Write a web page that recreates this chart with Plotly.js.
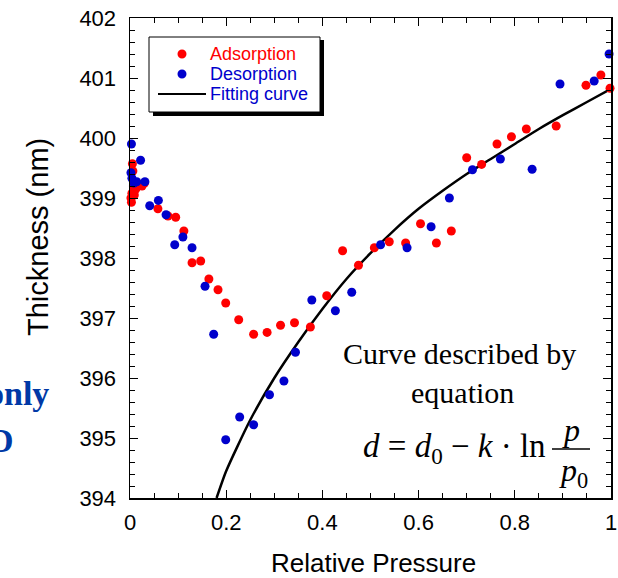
<!DOCTYPE html>
<html>
<head>
<meta charset="utf-8">
<script src="https://cdn.plot.ly/plotly-3.0.1.min.js"></script>
<style>html,body{margin:0;padding:0;background:#fff;}#chart{width:618px;height:578px;}</style>
</head>
<body>
<div id="chart"></div>
<script>
// Adsorption (red)
const adsX = [0.002,0.003,0.004,0.005,0.006,0.007,0.009,0.012,0.017,0.025,0.030,
  0.058,0.079,0.095,0.112,0.129,0.147,0.164,0.183,0.199,0.226,0.257,0.285,0.313,0.342,0.375,
  0.409,0.442,0.475,0.508,0.539,0.573,0.604,0.637,0.668,0.700,0.731,0.763,0.793,0.824,0.886,
  0.948,0.979,0.998];
const adsY = [399.00,398.93,399.08,399.57,399.45,399.20,399.05,399.15,399.20,399.20,399.25,
  398.82,398.70,398.68,398.45,397.92,397.95,397.65,397.47,397.25,396.97,396.73,396.76,396.88,396.92,396.85,
  397.37,398.12,397.88,398.17,398.27,398.25,398.57,398.25,398.45,399.67,399.56,399.90,400.02,400.15,400.20,
  400.88,401.05,400.83];
// Desorption (blue)
const desX = [0.003,0.002,0.004,0.008,0.014,0.022,0.031,0.041,0.059,0.075,0.093,0.110,0.129,
  0.156,0.174,0.199,0.228,0.257,0.290,0.320,0.344,0.378,0.427,0.461,0.521,0.576,0.626,0.664,
  0.712,0.770,0.836,0.894,0.965,0.996];
const desY = [399.90,399.42,399.33,399.25,399.27,399.63,399.27,398.87,398.96,398.72,398.22,398.35,398.17,
  397.53,396.73,394.97,395.35,395.22,395.72,395.95,396.43,397.30,397.12,397.43,398.22,398.17,398.52,399.00,
  399.47,399.65,399.48,400.90,400.95,401.40];
// Fitting curve
const fitX = [0.18,0.20,0.25,0.30,0.35,0.40,0.45,0.50,0.55,0.60,0.65,0.70,0.75,0.80,0.85,0.90,0.95,1.00];
const fitY = [394.00,394.45,395.30,396.00,396.60,397.15,397.65,398.08,398.47,398.82,399.12,399.40,399.65,399.90,400.15,400.38,400.60,400.82];

const xTicks = [0,0.2,0.4,0.6,0.8,1];
const xTickText = ['0','0.2','0.4','0.6','0.8','1'];
const yTicks = [394,395,396,397,398,399,400,401,402];

const RED = '#ff0000', BLUE = '#0000cc';
const W = 618, H = 578, L = 130, R = 7, T = 18, B = 80;
const pw = W - L - R, ph = H - T - B;
const px = v => (v - L) / pw;          // pixel -> paper x
const py = v => (H - B - v) / ph;      // pixel -> paper y

const traces = [
  {x: fitX, y: fitY, mode: 'lines', line: {color: 'black', width: 2.5, shape: 'spline', smoothing: 0.6}, hoverinfo: 'skip', showlegend: false},
  {x: adsX, y: adsY, mode: 'markers', marker: {color: RED, size: 9}, cliponaxis: false, showlegend: false},
  {x: desX, y: desY, mode: 'markers', marker: {color: BLUE, size: 9}, cliponaxis: false, showlegend: false}
];

const sans = 'Arial, "Liberation Sans", sans-serif';
const serif = '"Times New Roman", "Liberation Serif", serif';

const axisCommon = {
  showline: true, linecolor: 'black', linewidth: 1.5, mirror: 'ticks',
  ticks: 'inside', ticklen: 8, tickwidth: 1, tickcolor: 'black',
  showgrid: false, zeroline: false, fixedrange: true,
  tickfont: {family: sans, size: 22, color: 'black'}
};

const layout = {
  width: W, height: H,
  margin: {l: L, r: R, t: T, b: B},
  paper_bgcolor: 'white', plot_bgcolor: 'white',
  showlegend: false,
  xaxis: Object.assign({}, axisCommon, {
    range: [0, 1], tickvals: xTicks, ticktext: xTickText, ticklabelstandoff: 4,
    minor: {dtick: 0.05, ticks: 'inside', ticklen: 5, tickwidth: 1, tickcolor: 'black', showgrid: false}
  }),
  yaxis: Object.assign({}, axisCommon, {
    range: [394, 402], tickvals: yTicks, ticklabelstandoff: 8,
    minor: {dtick: 0.2, ticks: 'inside', ticklen: 5, tickwidth: 1, tickcolor: 'black', showgrid: false}
  }),
  shapes: [
    // legend shadow and box
    {type: 'rect', xref: 'paper', yref: 'paper', x0: px(153), x1: px(324), y0: py(116), y1: py(40),
     fillcolor: 'black', line: {width: 0}},
    {type: 'rect', xref: 'paper', yref: 'paper', x0: px(149), x1: px(320), y0: py(112), y1: py(37),
     fillcolor: 'white', line: {color: 'black', width: 1}},
    {type: 'circle', xref: 'paper', yref: 'paper', xsizemode: 'pixel', ysizemode: 'pixel',
     xanchor: px(182), yanchor: py(54), x0: -4.5, x1: 4.5, y0: -4.5, y1: 4.5, fillcolor: RED, line: {width: 0}},
    {type: 'circle', xref: 'paper', yref: 'paper', xsizemode: 'pixel', ysizemode: 'pixel',
     xanchor: px(182), yanchor: py(74), x0: -4.5, x1: 4.5, y0: -4.5, y1: 4.5, fillcolor: BLUE, line: {width: 0}},
    {type: 'line', xref: 'paper', yref: 'paper', x0: px(158), x1: px(206), y0: py(94), y1: py(94),
     line: {color: 'black', width: 2}},
    // fraction bar
    {type: 'line', xref: 'paper', yref: 'paper', x0: px(552), x1: px(590), y0: py(449), y1: py(449),
     line: {color: 'black', width: 1.5}}
  ],
  annotations: [
    {text: 'Adsorption', xref: 'paper', yref: 'paper', x: px(208), y: py(54), xanchor: 'left', yanchor: 'middle',
     showarrow: false, font: {family: sans, size: 18, color: RED}},
    {text: 'Desorption', xref: 'paper', yref: 'paper', x: px(208), y: py(74), xanchor: 'left', yanchor: 'middle',
     showarrow: false, font: {family: sans, size: 18, color: BLUE}},
    {text: 'Fitting curve', xref: 'paper', yref: 'paper', x: px(208), y: py(94), xanchor: 'left', yanchor: 'middle',
     showarrow: false, font: {family: sans, size: 18, color: BLUE}},
    {text: 'Relative Pressure', xref: 'paper', yref: 'paper', x: px(373), y: py(563), xanchor: 'center', yanchor: 'middle',
     showarrow: false, font: {family: sans, size: 26, color: 'black'}},
    {text: 'Thickness (nm)', xref: 'paper', yref: 'paper', x: px(38), y: py(237), xanchor: 'center', yanchor: 'middle',
     textangle: -90, showarrow: false, font: {family: sans, size: 29, color: 'black'}},
    {text: 'Curve described by', xref: 'paper', yref: 'paper', x: px(459), y: py(353), xanchor: 'center', yanchor: 'middle',
     showarrow: false, font: {family: serif, size: 30, color: 'black'}},
    {text: 'equation', xref: 'paper', yref: 'paper', x: px(462), y: py(392), xanchor: 'center', yanchor: 'middle',
     showarrow: false, font: {family: serif, size: 30, color: 'black'}},
    {text: '<i>d</i> = <i>d</i><sub>0</sub> − <i>k</i> · ln', xref: 'paper', yref: 'paper', x: px(548), y: py(448),
     xanchor: 'right', yanchor: 'middle', showarrow: false, font: {family: serif, size: 33, color: 'black'}},
    {text: '<i>p</i>', xref: 'paper', yref: 'paper', x: px(571), y: py(430), xanchor: 'center', yanchor: 'middle',
     showarrow: false, font: {family: serif, size: 32, color: 'black'}},
    {text: '<i>p</i><sub>0</sub>', xref: 'paper', yref: 'paper', x: px(573), y: py(472), xanchor: 'center', yanchor: 'middle',
     showarrow: false, font: {family: serif, size: 32, color: 'black'}},
    {text: '<b>only</b>', xref: 'paper', yref: 'paper', x: px(51), y: py(393), xanchor: 'right', yanchor: 'middle',
     showarrow: false, font: {family: serif, size: 34, color: '#0039a6'}},
    {text: '<b>D</b>', xref: 'paper', yref: 'paper', x: px(16), y: py(440), xanchor: 'right', yanchor: 'middle',
     showarrow: false, font: {family: serif, size: 34, color: '#0039a6'}}
  ]
};

Plotly.newPlot('chart', traces, layout, {displayModeBar: false, staticPlot: true});
</script>
</body>
</html>
